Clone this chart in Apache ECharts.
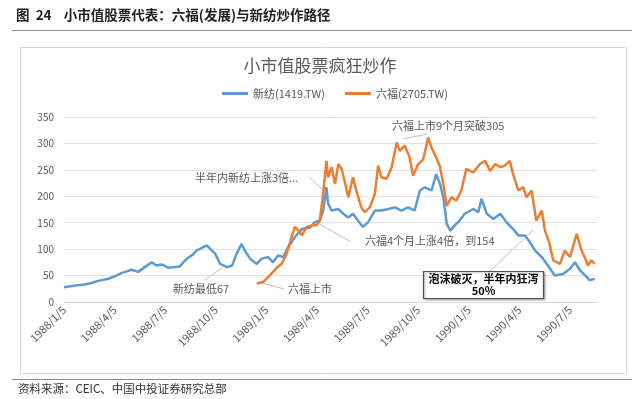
<!DOCTYPE html>
<html>
<head>
<meta charset="utf-8">
<script src="https://cdn.jsdelivr.net/npm/echarts@6/dist/echarts.min.js"></script>
<style>
  html, body { margin: 0; padding: 0; background: #fff; }
  #chart { width: 640px; height: 399px; }
</style>
</head>
<body>
<div id="chart"></div>
<script>
// 新纺(1419.TW)
const xfDates = [
  '1988/1/5', '1988/1/25', '1988/2/12', '1988/2/24', '1988/3/6', '1988/3/24', '1988/4/6', '1988/4/18',
  '1988/4/27', '1988/5/5', '1988/5/17', '1988/5/29', '1988/6/11', '1988/6/20', '1988/6/29', '1988/7/10',
  '1988/7/22', '1988/7/31', '1988/8/7', '1988/8/16', '1988/8/25', '1988/8/31', '1988/9/19', '1988/10/4',
  '1988/10/13', '1988/10/25', '1988/11/4', '1988/11/12', '1988/11/21', '1988/11/27', '1988/12/6', '1988/12/18',
  '1988/12/27', '1989/1/8', '1989/1/17', '1989/1/26', '1989/2/5', '1989/2/14', '1989/2/26', '1989/3/8',
  '1989/3/23', '1989/4/1', '1989/4/10', '1989/4/16', '1989/4/22', '1989/4/25', '1989/5/1', '1989/5/13',
  '1989/5/22', '1989/5/31', '1989/6/9', '1989/6/18', '1989/6/27', '1989/7/6', '1989/7/18', '1989/7/30',
  '1989/8/12', '1989/8/24', '1989/9/5', '1989/9/17', '1989/9/29', '1989/10/8', '1989/10/17', '1989/10/29',
  '1989/11/7', '1989/11/14', '1989/11/20', '1989/11/26', '1989/12/2', '1989/12/10', '1989/12/19', '1989/12/28',
  '1990/1/13', '1990/1/22', '1990/1/28', '1990/2/7', '1990/2/19', '1990/3/1', '1990/3/12', '1990/3/24',
  '1990/4/3', '1990/4/15', '1990/4/24', '1990/5/3', '1990/5/15', '1990/5/24', '1990/6/8', '1990/6/23',
  '1990/7/5', '1990/7/14', '1990/7/23', '1990/8/5', '1990/8/10', '1990/8/19'
];
const xfValues = [
  28, 31, 33, 36, 40, 44, 49, 55,
  58, 61, 57, 66, 75, 69, 71, 65,
  66, 67, 75, 84, 90, 97, 107, 91,
  72, 66, 69, 91, 110, 97, 82, 72,
  82, 85, 75, 88, 85, 104, 123, 138,
  141, 151, 154, 173, 217, 186, 173, 176,
  167, 160, 167, 154, 142, 151, 173, 173,
  176, 179, 173, 179, 173, 211, 217, 211,
  242, 223, 198, 148, 135, 145, 154, 167,
  176, 170, 195, 167, 157, 167, 151, 138,
  126, 126, 113, 97, 85, 72, 50, 53,
  63, 75, 60, 47, 41, 44
];

// 六福(2705.TW)
const lfDates = [
  '1988/12/18', '1988/12/30', '1989/1/8', '1989/1/17', '1989/1/25', '1989/2/2', '1989/2/11', '1989/2/20',
  '1989/2/26', '1989/3/2', '1989/3/8', '1989/3/17', '1989/3/26', '1989/4/4', '1989/4/10', '1989/4/16',
  '1989/4/22', '1989/4/25', '1989/5/1', '1989/5/7', '1989/5/13', '1989/5/19', '1989/5/25', '1989/5/31',
  '1989/6/9', '1989/6/15', '1989/6/24', '1989/6/30', '1989/7/9', '1989/7/18', '1989/7/24', '1989/7/30',
  '1989/8/9', '1989/8/18', '1989/8/27', '1989/9/2', '1989/9/11', '1989/9/20', '1989/9/26', '1989/10/5',
  '1989/10/14', '1989/10/23', '1989/10/29', '1989/11/7', '1989/11/14', '1989/11/20', '1989/11/26', '1989/12/4',
  '1989/12/13', '1989/12/22', '1989/12/31', '1990/1/13', '1990/1/25', '1990/2/4', '1990/2/13', '1990/2/22',
  '1990/3/1', '1990/3/9', '1990/3/18', '1990/3/24', '1990/4/3', '1990/4/12', '1990/4/18', '1990/4/27',
  '1990/5/5', '1990/5/15', '1990/5/20', '1990/5/29', '1990/6/5', '1990/6/17', '1990/6/26', '1990/7/5',
  '1990/7/17', '1990/7/26', '1990/8/1', '1990/8/7', '1990/8/13', '1990/8/19'
];
const lfValues = [
  35, 38, 47, 57, 66, 72, 91, 123,
  142, 135, 126, 142, 145, 145, 154, 204,
  267, 236, 255, 223, 261, 252, 226, 198,
  236, 211, 179, 170, 179, 204, 258, 236,
  233, 255, 302, 286, 296, 274, 239, 261,
  270, 311, 292, 274, 255, 223, 182, 198,
  192, 211, 252, 245, 261, 267, 248, 261,
  255, 258, 267, 242, 211, 217, 198, 211,
  154, 173, 138, 110, 79, 72, 97, 85,
  129, 97, 85, 69, 79, 72
];

const tickLabels = [
  '1988/1/5', '1988/4/5', '1988/7/5', '1988/10/5', '1989/1/5', '1989/4/5',
  '1989/7/5', '1989/10/5', '1990/1/5', '1990/4/5', '1990/7/5'
];

// 日期 -> 距 1988/1/5 的月数
function toMonth(d) {
  const [y, m, dd] = d.split('/').map(Number);
  return (y - 1988) * 12 + (m - 1) + (dd - 5) / 30.44;
}

const font = '"Noto Sans CJK SC", "Noto Sans", sans-serif';
const grey = '#595959';
const noteFont = '11px ' + font;

const chart = echarts.init(document.getElementById('chart'));

chart.setOption({
  animation: false,
  backgroundColor: '#fff',
  textStyle: { fontFamily: font },
  title: {
    text: '小市值股票疯狂炒作',
    left: 'center',
    top: 52,
    textStyle: { fontSize: 17, fontWeight: 'normal', color: grey, fontFamily: font }
  },
  legend: {
    top: 83,
    left: 217,
    itemGap: 20,
    itemWidth: 26,
    itemHeight: 3,
    icon: 'rect',
    textStyle: { fontSize: 11, color: grey, fontFamily: font },
    data: ['新纺(1419.TW)', '六福(2705.TW)']
  },
  grid: { left: 64, right: 43, top: 117, bottom: 97 },
  xAxis: {
    type: 'value',
    min: 0,
    max: 31.6,
    interval: 3,
    axisLine: { lineStyle: { color: '#d9d9d9' } },
    axisTick: { show: false },
    splitLine: { show: false },
    axisLabel: {
      rotate: 45,
      fontSize: 11,
      color: grey,
      margin: 6,
      showMaxLabel: false,
      formatter: v => (v % 3 === 0 ? tickLabels[v / 3] || '' : '')
    }
  },
  yAxis: {
    type: 'value',
    min: 0,
    max: 350,
    interval: 50,
    axisLine: { show: false },
    axisTick: { show: false },
    axisLabel: { fontSize: 10, color: grey, margin: 10 },
    splitLine: { lineStyle: { color: '#e3e3e3' } }
  },
  series: [
    {
      name: '新纺(1419.TW)',
      type: 'line',
      symbol: 'none',
      color: '#5b9bd5',
      lineStyle: { width: 2.5, color: '#5b9bd5' },
      data: xfDates.map((d, i) => [toMonth(d), xfValues[i]])
    },
    {
      name: '六福(2705.TW)',
      type: 'line',
      symbol: 'none',
      color: '#ed7d31',
      lineStyle: { width: 2.5, color: '#ed7d31' },
      data: lfDates.map((d, i) => [toMonth(d), lfValues[i]])
    }
  ],
  graphic: [
    // 页眉
    { type: 'text', style: { text: '图  24    小市值股票代表：六福(发展)与新纺炒作路径', x: 16, y: 15, font: 'bold 13.5px ' + font, fill: '#222', textVerticalAlign: 'middle' } },
    { type: 'line', shape: { x1: 12, y1: 30.5, x2: 632, y2: 30.5 }, style: { stroke: '#8c8c8c', lineWidth: 1 } },
    // 图表外框
    { type: 'rect', shape: { x: 20.5, y: 47.5, width: 606, height: 326 }, style: { fill: 'none', stroke: '#d9d9d9', lineWidth: 1 }, z: -1 },
    // 资料来源
    { type: 'line', shape: { x1: 12, y1: 379.5, x2: 632, y2: 379.5 }, style: { stroke: '#8c8c8c', lineWidth: 1 } },
    { type: 'text', style: { text: '资料来源：CEIC、中国中投证券研究总部', x: 18, y: 389, font: '11.5px ' + font, fill: '#333', textVerticalAlign: 'middle' } },

    // 标注
    { type: 'text', style: { text: '半年内新纺上涨3倍...', x: 195, y: 178, font: noteFont, fill: grey, textVerticalAlign: 'middle' } },
    { type: 'line', shape: { x1: 309, y1: 177, x2: 323, y2: 190 }, style: { stroke: '#bfbfbf', lineWidth: 1 } },

    { type: 'text', style: { text: '六福4个月上涨4倍，到154', x: 365, y: 241, font: noteFont, fill: grey, textVerticalAlign: 'middle' } },
    { type: 'line', shape: { x1: 351, y1: 242, x2: 318, y2: 223 }, style: { stroke: '#bfbfbf', lineWidth: 1 } },

    { type: 'text', style: { text: '新纺最低67', x: 173, y: 289, font: noteFont, fill: grey, textVerticalAlign: 'middle' } },
    { type: 'line', shape: { x1: 205, y1: 280, x2: 222, y2: 268 }, style: { stroke: '#bfbfbf', lineWidth: 1 } },

    { type: 'text', style: { text: '六福上市', x: 288, y: 289, font: noteFont, fill: grey, textVerticalAlign: 'middle' } },
    { type: 'line', shape: { x1: 262, y1: 283, x2: 284, y2: 289 }, style: { stroke: '#bfbfbf', lineWidth: 1 } },

    { type: 'text', style: { text: '六福上市9个月突破305', x: 392, y: 126, font: noteFont, fill: grey, textVerticalAlign: 'middle' } },
    { type: 'line', shape: { x1: 403, y1: 139, x2: 427, y2: 134 }, style: { stroke: '#bfbfbf', lineWidth: 1 } },

    { type: 'line', shape: { x1: 490, y1: 271, x2: 533, y2: 230 }, style: { stroke: '#bfbfbf', lineWidth: 1 } },
    { type: 'rect', shape: { x: 423.5, y: 271.5, width: 120, height: 27 }, style: { fill: '#fff', stroke: '#44546a', lineWidth: 1.2, shadowBlur: 2, shadowColor: 'rgba(0,0,0,0.3)', shadowOffsetX: 1, shadowOffsetY: 1 }, z: 10 },
    { type: 'text', style: { text: '泡沫破灭，半年内狂泻', x: 483.5, y: 279, font: 'bold 11px ' + font, fill: '#000', textAlign: 'center', textVerticalAlign: 'middle' }, z: 11 },
    { type: 'text', style: { text: '50%', x: 483.5, y: 291, font: 'bold 11px ' + font, fill: '#000', textAlign: 'center', textVerticalAlign: 'middle' }, z: 11 }
  ]
});
</script>
</body>
</html>
